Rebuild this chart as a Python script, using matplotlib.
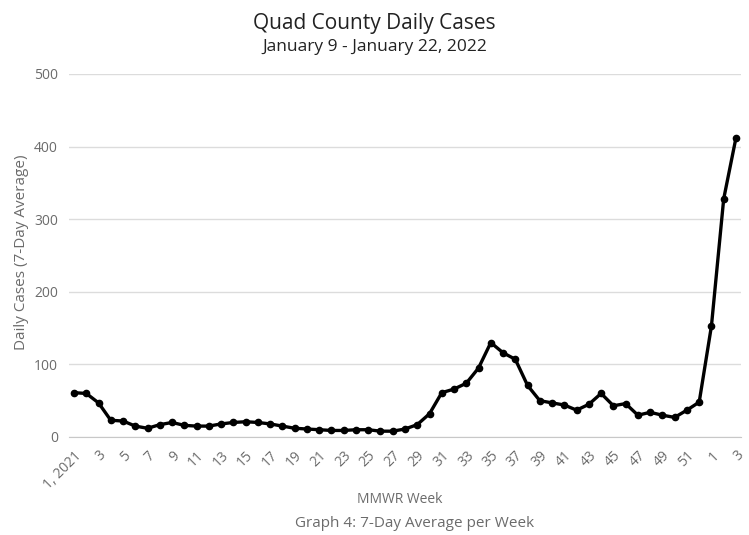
import matplotlib.pyplot as plt

plt.rcParams['font.family'] = ['Open Sans', 'DejaVu Sans']

# MMWR weeks: 1..52 of 2021, then 1..3 of 2022
weeks = list(range(1, 53)) + [1, 2, 3]
weekLabels = ["1, 2021"] + [str(w) for w in weeks[1:]]
cases = [61, 60, 47, 23, 22, 15, 12, 17, 20, 16,
         15, 15, 18, 20, 21, 20, 18, 15, 12, 11,
         10, 9, 9, 10, 10, 8, 8, 11, 17, 32,
         61, 66, 74, 95, 130, 116, 107, 71, 50, 47,
         44, 37, 45, 60, 43, 46, 30, 34, 30, 27,
         37, 48, 153, 328, 412]

gray = "#6b6b6b"

fig = plt.figure(figsize=(7.49, 5.35), dpi=100)
ax = fig.add_axes([0.0921, 0.1832, 0.8972, 0.6785])

x = list(range(len(cases)))
ax.plot(x, cases, color="black", linewidth=2.4, marker="o", markersize=4.5, zorder=3)

ax.set_xlim(-0.41, len(cases) - 1 + 0.41)
ax.set_ylim(0, 500)
ax.set_yticks([0, 100, 200, 300, 400, 500])
ax.grid(axis="y", color="#dcdcdc", linewidth=1)
ax.set_axisbelow(True)
for side in ["top", "right", "left"]:
    ax.spines[side].set_visible(False)
ax.spines["bottom"].set_color("#c8c8c8")

ax.set_xticks(x[::2])
ax.set_xticklabels(weekLabels[::2], rotation=45, ha="right", rotation_mode="anchor")
ax.tick_params(axis="x", length=0, pad=8, labelsize=10, labelcolor=gray)
ax.tick_params(axis="y", length=0, pad=8, labelsize=10, labelcolor=gray)

ax.set_ylabel("Daily Cases (7-Day Average)", fontsize=11, color=gray)
ax.yaxis.set_label_coords(-0.059, 0.51)

fig.text(0.5, 0.957, "Quad County Daily Cases", ha="center", va="center", fontsize=15, color="#222222")
fig.text(0.5, 0.912, "January 9 - January 22, 2022", ha="center", va="center", fontsize=12.5, color="#222222")
fig.text(0.533, 0.067, "MMWR Week", ha="center", va="center", fontsize=10, color=gray)
fig.text(0.554, 0.022, "Graph 4: 7-Day Average per Week", ha="center", va="center", fontsize=11, color=gray)

plt.savefig("out.png", dpi=100)
